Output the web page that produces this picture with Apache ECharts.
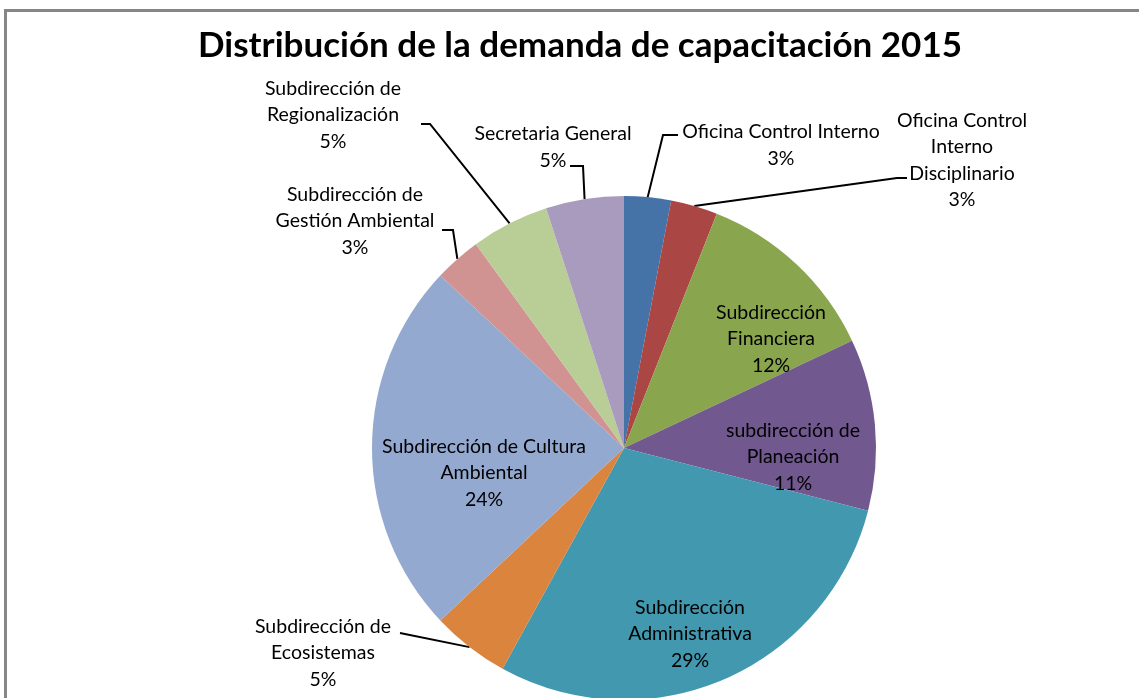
<!DOCTYPE html>
<html>
<head>
<meta charset="utf-8">
<script src="https://cdn.jsdelivr.net/npm/echarts@6/dist/echarts.min.js"></script>
<style>
  html, body { margin: 0; padding: 0; background: #fff; }
  #chart { width: 1139px; height: 698px; }
</style>
</head>
<body>
<div id="chart"></div>
<script>
// Areas (label text, line breaks as shown on the chart)
const areas = [
  'Oficina Control Interno',
  'Oficina Control\nInterno\nDisciplinario',
  'Subdirección\nFinanciera',
  'subdirección de\nPlaneación',
  'Subdirección\nAdministrativa',
  'Subdirección de\nEcosistemas',
  'Subdirección de Cultura\nAmbiental',
  'Subdirección de\nGestión Ambiental',
  'Subdirección de\nRegionalización',
  'Secretaria General'
];
// Share of the training demand, in percent
const shares = [3, 3, 12, 11, 29, 5, 24, 3, 5, 5];
const colors = ['#4572A7', '#AA4643', '#89A54E', '#71588F', '#4198AF',
                '#DB843D', '#93A9CF', '#D19392', '#B9CD96', '#A99BBD'];
// Which labels sit inside their slice
const insideLabel = [false, false, true, true, true, false, true, false, false, false];

// Label placement: centre of the text block and the bend/end of the leader line
const labelPlace = [
  { x: 781, y: 145, line: [[663, 135], [678, 135]] },
  { x: 962, y: 160, line: [[897, 178], [907, 178]] },
  { x: 771, y: 339 },
  { x: 793, y: 457 },
  { x: 690, y: 634 },
  { x: 323, y: 653, line: [[400, 633]] },
  { x: 484, y: 473 },
  { x: 355, y: 221, line: [[453, 230], [442, 230]] },
  { x: 333, y: 115, line: [[430, 124], [421, 124]] },
  { x: 553, y: 147, line: [[583, 166], [570, 166]] }
];

const FONT = 'Lato, "Noto Sans", sans-serif';

const chart = echarts.init(document.getElementById('chart'), null, { renderer: 'canvas' });

const data = areas.map((name, i) => ({
  name: name,
  value: shares[i],
  itemStyle: { color: colors[i] },
  label: { position: insideLabel[i] ? 'inside' : 'outside' },
  labelLine: { show: !insideLabel[i] }
}));

chart.setOption({
  animation: false,
  backgroundColor: '#ffffff',
  title: {
    text: 'Distribución de la demanda de capacitación 2015',
    left: 575,
    top: 23,
    textAlign: 'center',
    textStyle: { fontFamily: FONT, fontWeight: 'bold', fontSize: 35, color: '#000' }
  },
  graphic: [
    {
      type: 'polyline',
      shape: { points: [[5.5, 698], [5.5, 10.5], [1139, 10.5]] },
      style: { stroke: '#868686', lineWidth: 3, fill: null },
      silent: true
    }
  ],
  series: [{
    type: 'pie',
    center: [624, 448],
    radius: [0, 252],
    startAngle: 90,
    clockwise: true,
    avoidLabelOverlap: false,
    itemStyle: { borderWidth: 0 },
    emphasis: { disabled: true },
    label: {
      show: true,
      formatter: p => p.name + '\n' + p.value + '%',
      fontFamily: FONT,
      fontSize: 19.5,
      lineHeight: 26.5,
      color: '#000',
      align: 'center'
    },
    labelLine: {
      show: true,
      length: 10,
      length2: 10,
      lineStyle: { color: '#000', width: 2 }
    },
    labelLayout: function (params) {
      const place = labelPlace[params.dataIndex];
      const out = {
        x: place.x,
        y: place.y,
        align: 'center',
        verticalAlign: 'middle'
      };
      if (place.line && params.labelLinePoints) {
        out.labelLinePoints = [params.labelLinePoints[0]].concat(place.line);
      }
      return out;
    },
    data: data
  }]
});
</script>
</body>
</html>
